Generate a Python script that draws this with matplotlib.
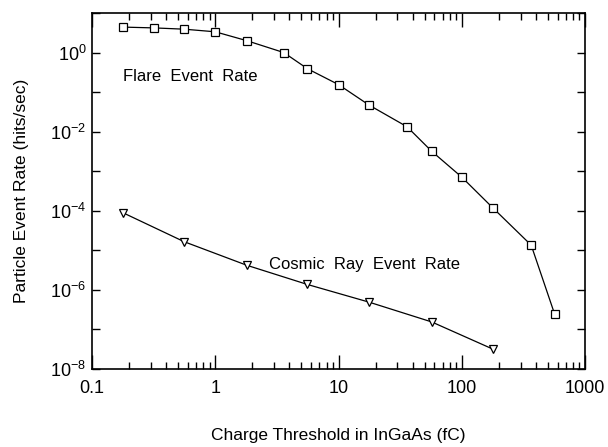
import matplotlib
matplotlib.use("Agg")
import matplotlib.pyplot as plt
from matplotlib.ticker import FixedLocator, LogLocator, NullFormatter, FixedFormatter

plt.rcParams['font.family'] = ['Liberation Sans', 'DejaVu Sans']
plt.rcParams['mathtext.fontset'] = 'custom'
plt.rcParams['mathtext.rm'] = 'Liberation Sans'
plt.rcParams['mathtext.it'] = 'Liberation Sans:italic'
plt.rcParams['mathtext.bf'] = 'Liberation Sans:bold'

flare_x = [0.18, 0.32, 0.56, 1.0, 1.8, 3.6, 5.6, 10, 17.7, 36, 57, 100, 178, 366, 568]
flare_y = [4.4, 4.2, 3.9, 3.35, 2.0, 1.0, 0.39, 0.155, 0.047, 0.0133, 0.0032, 7.1e-4, 1.2e-4, 1.35e-5, 2.4e-7]

cosmic_x = [0.18, 0.56, 1.8, 5.6, 17.7, 57, 178]
cosmic_y = [8.8e-5, 1.65e-5, 4.2e-6, 1.37e-6, 4.9e-7, 1.55e-7, 3.2e-8]

x_ticks = [0.1, 1, 10, 100, 1000]
x_labels = ["0.1", "1", "10", "100", "1000"]
y_ticks = [1e-8, 1e-7, 1e-6, 1e-5, 1e-4, 1e-3, 1e-2, 1e-1, 1e0, 1e1]
y_labels = [r"$\mathrm{10^{-8}}$", "", r"$\mathrm{10^{-6}}$", "", r"$\mathrm{10^{-4}}$", "",
            r"$\mathrm{10^{-2}}$", "", r"$\mathrm{10^{0}}$", ""]

fig = plt.figure(figsize=(6.08, 4.47), dpi=100)
ax = fig.add_axes([0.1513, 0.1745, 0.8109, 0.7964])

ax.plot(flare_x, flare_y, color='black', lw=0.9, marker='s', ms=5.5,
        mfc='white', mec='black', mew=0.9)
ax.plot(cosmic_x, cosmic_y, color='black', lw=0.9, marker='v', ms=5.5,
        mfc='white', mec='black', mew=0.9)

ax.set_xscale('log')
ax.set_yscale('log')
ax.set_xlim(0.1, 1000)
ax.set_ylim(1e-8, 1e1)

ax.xaxis.set_major_locator(FixedLocator(x_ticks))
ax.xaxis.set_major_formatter(FixedFormatter(x_labels))
ax.xaxis.set_minor_locator(LogLocator(base=10, subs=range(2, 10)))
ax.xaxis.set_minor_formatter(NullFormatter())
ax.yaxis.set_major_locator(FixedLocator(y_ticks))
ax.yaxis.set_major_formatter(FixedFormatter(y_labels))
ax.yaxis.set_minor_locator(FixedLocator([]))

ax.tick_params(which='both', direction='in', top=True, right=True, labelsize=13, width=1)
ax.tick_params(axis='x', which='major', length=10, pad=8)
ax.tick_params(axis='x', which='minor', length=5)
ax.tick_params(axis='y', which='major', length=6, pad=4)
for s in ax.spines.values():
    s.set_linewidth(1.2)

ax.text(0.18, 0.25, "Flare  Event  Rate", fontsize=12, va='center', ha='left')
ax.text(2.75, 4.5e-6, "Cosmic  Ray  Event  Rate", fontsize=12, va='center', ha='left')

ax.set_xlabel("Charge Threshold in InGaAs (fC)", fontsize=12.5, labelpad=22)
ax.set_ylabel("Particle Event Rate (hits/sec)", fontsize=12.5, labelpad=15)

fig.savefig("out.png", dpi=100)
